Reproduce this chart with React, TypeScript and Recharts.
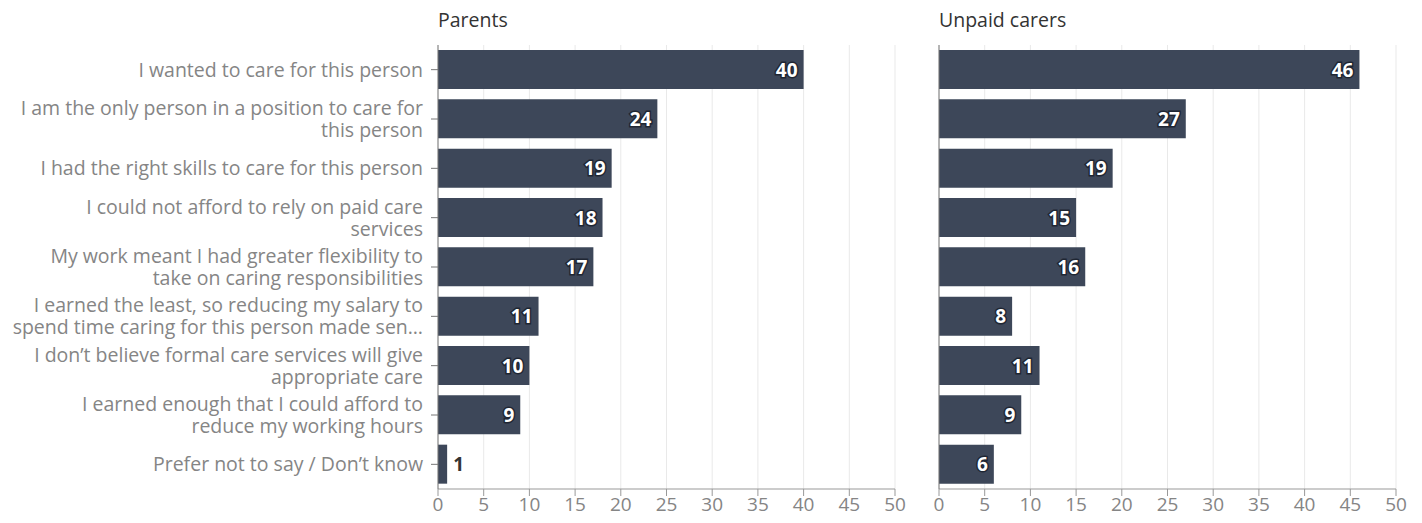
import React from 'react';
import { BarChart, Bar, XAxis, YAxis, CartesianGrid, LabelList } from 'recharts';

const categories = [
  'I wanted to care for this person',
  'I am the only person in a position to care for\nthis person',
  'I had the right skills to care for this person',
  'I could not afford to rely on paid care\nservices',
  'My work meant I had greater flexibility to\ntake on caring responsibilities',
  'I earned the least, so reducing my salary to\nspend time caring for this person made sen…',
  'I don’t believe formal care services will give\nappropriate care',
  'I earned enough that I could afford to\nreduce my working hours',
  'Prefer not to say / Don’t know',
];
const parents = [40, 24, 19, 18, 17, 11, 10, 9, 1];
const carers = [46, 27, 19, 15, 16, 8, 11, 9, 6];
const xTicks = [0, 5, 10, 15, 20, 25, 30, 35, 40, 45, 50];

const parentsData = categories.map((name, i) => ({ name, value: parents[i] }));
const carersData = categories.map((name, i) => ({ name, value: carers[i] }));

const FONT = '"Open Sans", "Noto Sans", sans-serif';
const BAR = '#3d4759';
const GREY = '#858585';

const CategoryTick = ({ x, y, payload }: any) => {
  const lines = String(payload.value).split('\n');
  const start = -((lines.length - 1) * 22) / 2;
  return (
    <text x={x} y={y} textAnchor="end" fill={GREY} fontSize={19.5} fontFamily={FONT}>
      {lines.map((l, i) => (
        <tspan key={i} x={x} dy={i === 0 ? start + 7 : 22}>{l}</tspan>
      ))}
    </text>
  );
};

const ValueLabel = (props: any) => {
  const { x, y, width, height, value } = props;
  const cy = y + height / 2;
  if (value < 3) {
    return (
      <text x={x + width + 6} y={cy} dy={7} fill="#333" fontSize={19} fontWeight={700} fontFamily={FONT}>
        {value}
      </text>
    );
  }
  return (
    <text
      x={x + width - 6}
      y={cy}
      dy={7}
      textAnchor="end"
      fill="#fff"
      stroke="#1f2633"
      strokeWidth={3}
      paintOrder="stroke"
      fontSize={19}
      fontWeight={700}
      fontFamily={FONT}
    >
      {value}
    </text>
  );
};

function Panel({ data, title, left, width, yWidth, showLabels }: any) {
  return (
    <div style={{ position: 'absolute', left, top: 0, width, height: 523 }}>
      <div
        style={{
          position: 'absolute',
          left: yWidth,
          top: 6,
          fontFamily: FONT,
          fontSize: 19.5,
          fontWeight: 500,
          color: '#333',
        }}
      >
        {title}
      </div>
      <BarChart
        width={width}
        height={523}
        data={data}
        layout="vertical"
        margin={{ top: 45, right: width - yWidth - 457, bottom: 4, left: 0 }}
        barCategoryGap={5}
      >
        <CartesianGrid horizontal={false} stroke="#e9e9e9" />
        <XAxis
          type="number"
          domain={[0, 50]}
          ticks={xTicks}
          height={30}
          tick={{ fill: GREY, fontSize: 19, fontFamily: FONT }}
          tickSize={7}
          tickMargin={2}
          stroke="#999"
          interval={0}
        />
        <YAxis
          type="category"
          dataKey="name"
          width={yWidth}
          tick={showLabels ? <CategoryTick /> : false}
          tickLine={showLabels}
          tickSize={7}
          tickMargin={8}
          stroke="#777"
          interval={0}
        />
        <Bar dataKey="value" fill={BAR} isAnimationActive={false}>
          <LabelList dataKey="value" content={<ValueLabel />} />
        </Bar>
      </BarChart>
    </div>
  );
}

export default function App() {
  return (
    <div style={{ position: 'absolute', left: 0, top: 0, width: 1422, height: 523, background: '#fff' }}>
      <Panel data={parentsData} title="Parents" left={0} width={910} yWidth={438} showLabels />
      <Panel data={carersData} title="Unpaid carers" left={910} width={512} yWidth={29} showLabels={false} />
    </div>
  );
}
